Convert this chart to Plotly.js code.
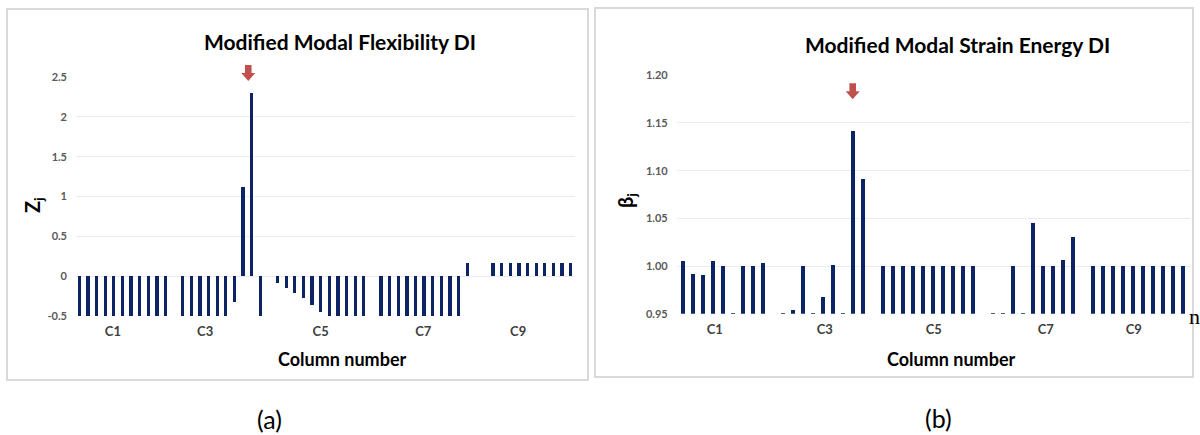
<!DOCTYPE html>
<html>
<head>
<meta charset="utf-8">
<script src="https://cdn.plot.ly/plotly-3.0.1.min.js"></script>
<style>html,body{margin:0;padding:0;background:#fff;}#chart{width:1200px;height:435px;}</style>
</head>
<body>
<div id="chart"></div>
<script>
// ---------- data ----------
// (a) Modified Modal Flexibility DI, one value per element (null = no bar)
const flexZ = [-0.5,-0.5,-0.5,-0.5,-0.5,-0.5,-0.5,-0.5,-0.5,-0.5,-0.5, null,
  -0.5,-0.5,-0.5,-0.5,-0.5,-0.5, -0.32, 1.12, 2.3, -0.5, null,
  -0.09,-0.145,-0.21,-0.28,-0.36,-0.45, -0.5,-0.5,-0.5,-0.5,-0.5, null,
  -0.5,-0.5,-0.5,-0.5,-0.5,-0.5,-0.5,-0.5,-0.5,-0.5, 0.16, null, null,
  0.16,0.16,0.16,0.16,0.16,0.16,0.16,0.16,0.16,0.16];
// (b) Modified Modal Strain Energy DI
const strainB = [1.005,0.992,0.991,1.005,1.000,0.951,1.000,1.000,1.003, null,
  0.951,0.954,1.000,0.951,0.968,1.001,0.951,1.142,1.091, null,
  1.000,1.000,1.000,1.000,1.000,1.000,1.000,1.000,1.000,1.000, null,
  0.951,0.951,1.000,0.951,1.045,1.000,1.000,1.006,1.030, null,
  1.000,1.000,1.000,1.000,1.000,1.000,1.000,1.000,1.000,1.000];
const colLabels = ['C1','C3','C5','C7','C9'];
const flexLabelPos = [3.9, 14.6, 28.0, 39.9, 50.9];
const strainLabelPos = [3.2, 14.2, 25.1, 36.3, 45.1];
const flexTicks = [-0.5, 0, 0.5, 1, 1.5, 2, 2.5];
const flexTickText = ['-0.5','0','0.5','1','1.5','2','2.5'];
const strainTicks = [0.95, 1.00, 1.05, 1.10, 1.15, 1.20];
const flexArrowAt = {x: 19.6, y: 2.45};
const strainArrowAt = {x: 17, y: 1.175};

// ---------- layout helpers ----------
const W = 1200, H = 435;
const px = v => v / W;
const py = v => 1 - v / H;
const FONT = 'Lato, "Open Sans", sans-serif';
const NAVY = '#0c2464';
const RED = '#c0504d';

const xDomA = [px(76), px(575)], yDomA = [py(316), py(77)];
const xDomB = [px(676.7), px(1190)], yDomB = [py(313.7), py(75.3)];
const xRangeA = [-0.38, 57.5], yRangeA = [-0.5, 2.5];
const xRangeB = [-0.6, 50.73], yRangeB = [0.95, 1.2];

function toPaperX(v, dom, rng){ return dom[0] + (v - rng[0]) / (rng[1] - rng[0]) * (dom[1] - dom[0]); }
function toPaperY(v, dom, rng){ return dom[0] + (v - rng[0]) / (rng[1] - rng[0]) * (dom[1] - dom[0]); }

const traces = [
  {type:'bar', x: flexZ.map((_, i) => i), y: flexZ, xaxis:'x', yaxis:'y',
   width: 0.38, marker:{color: NAVY}, hoverinfo:'y', showlegend:false},
  {type:'bar', x: strainB.map((_, i) => i), y: strainB, xaxis:'x2', yaxis:'y2',
   width: 0.42, marker:{color: NAVY}, hoverinfo:'y', showlegend:false}
];

const tickFontX = {family: FONT, size: 13, color: '#404040', weight: 'bold'};
const tickFontY = {family: FONT, size: 11, color: '#595959', weight: 'bold'};

function arrowShape(xp, yp){
  return {type:'path', xref:'paper', yref:'paper', xsizemode:'pixel', ysizemode:'pixel',
    xanchor: xp, yanchor: yp,
    path:'M0,0 L7,8 L3.3,8 L3.3,16 L-3.3,16 L-3.3,8 L-7,8 Z',
    fillcolor: RED, line:{width:0}};
}
function frame(x0, y0, x1, y1){
  return {type:'rect', xref:'paper', yref:'paper', x0: px(x0), x1: px(x1), y0: py(y1), y1: py(y0),
    line:{color:'#d9d9d9', width:2}, fillcolor:'rgba(0,0,0,0)', layer:'below'};
}
function txt(text, x, y, size, opts){
  return Object.assign({text: text, xref:'paper', yref:'paper', x: px(x), y: py(y),
    xanchor:'center', yanchor:'middle', showarrow:false,
    font:{family: FONT, size: size, color:'#000'}}, opts || {});
}

const layout = {
  width: W, height: H, margin:{l:0, r:0, t:0, b:0},
  paper_bgcolor:'#fff', plot_bgcolor:'rgba(0,0,0,0)', bargap: 0,
  xaxis:{domain: xDomA, anchor:'y', range: xRangeA, tickvals: flexLabelPos, ticktext: colLabels,
    showgrid:false, zeroline:false, showline:false, ticks:'', tickfont: tickFontX, ticklabelstandoff: 6, fixedrange:true},
  yaxis:{domain: yDomA, anchor:'x', range: yRangeA, tickvals: flexTicks, ticktext: flexTickText,
    showgrid:true, gridcolor:'#ebebeb', gridwidth:1, zeroline:false, showline:false, ticks:'',
    tickfont: tickFontY, ticklabelstandoff: 8, fixedrange:true},
  xaxis2:{domain: xDomB, anchor:'y2', range: xRangeB, tickvals: strainLabelPos, ticktext: colLabels,
    showgrid:false, zeroline:false, showline:false, ticks:'', tickfont: tickFontX, ticklabelstandoff: 6, fixedrange:true},
  yaxis2:{domain: yDomB, anchor:'x2', range: yRangeB, tickvals: strainTicks, tickformat:'.2f',
    showgrid:true, gridcolor:'#ebebeb', gridwidth:1, zeroline:false, showline:false, ticks:'',
    tickfont: tickFontY, ticklabelstandoff: 8, fixedrange:true},
  shapes: [
    frame(7, 9, 588, 380),
    frame(595, 8, 1193, 377),
    arrowShape(toPaperX(flexArrowAt.x, xDomA, xRangeA), toPaperY(flexArrowAt.y, yDomA, yRangeA)),
    arrowShape(toPaperX(strainArrowAt.x, xDomB, xRangeB), toPaperY(strainArrowAt.y, yDomB, yRangeB))
  ],
  annotations: [
    txt('<b>Modified Modal Flexibility DI</b>', 340, 42, 21),
    txt('<b>Modified Modal Strain Energy DI</b>', 957, 45, 21),
    txt('<b>Column number</b>', 342, 359, 18),
    txt('<b>Column number</b>', 951, 359, 18),
    txt('<b>Z<sub>j</sub></b>', 33, 205, 20, {textangle:-90}),
    txt('<b>β<sub>j</sub></b>', 626, 200, 20, {textangle:-90}),
    txt('(a)', 269, 419, 25),
    txt('(b)', 938, 418, 25),
    txt('n', 1187, 316, 22, {xanchor:'left', font:{family:'"Liberation Serif", serif', size:22, color:'#000'}})
  ]
};

Plotly.newPlot('chart', traces, layout, {staticPlot:true, displayModeBar:false});
</script>
</body>
</html>
